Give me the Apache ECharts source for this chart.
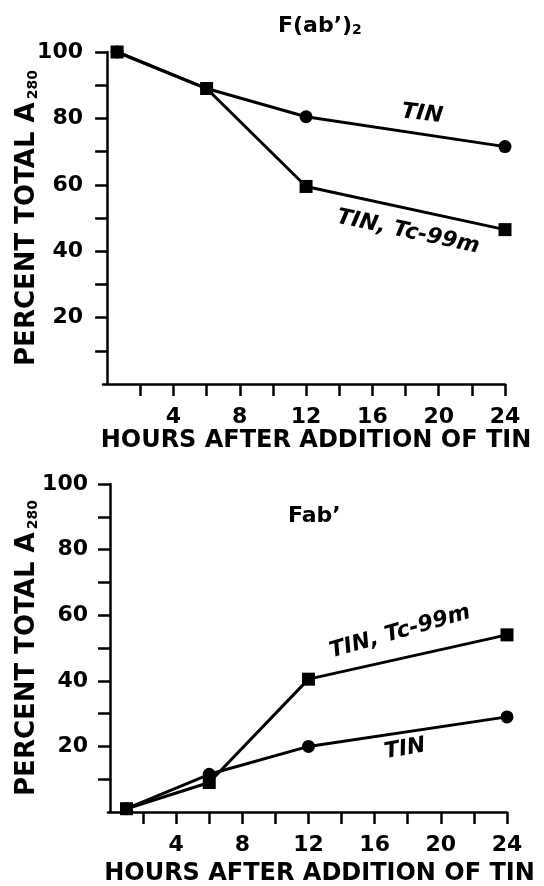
<!DOCTYPE html>
<html>
<head>
<meta charset="utf-8">
<script src="https://cdn.jsdelivr.net/npm/echarts@6/dist/echarts.min.js"></script>
<style>
  html, body { margin: 0; padding: 0; background: #fff; }
  #chart { width: 544px; height: 886px; }
</style>
</head>
<body>
<div id="chart"></div>
<script>
// hours after addition of tin
const hoursTop = [0.6, 6, 12, 24];
const hoursBottom = [1, 6, 12, 24];

// F(ab')2 panel, percent total A280
const tinTop = [100, 89, 80.5, 71.5];
const tinTcTop = [100, 89, 59.5, 46.5];

// Fab' panel
const tinBottom = [1, 11.5, 20, 29];
const tinTcBottom = [1, 9, 40.5, 54];

const xTicks = [2, 4, 6, 8, 10, 12, 14, 16, 18, 20, 22, 24];
const xLabels = [4, 8, 12, 16, 20, 24];
const yTicks = [10, 20, 30, 40, 50, 60, 70, 80, 90, 100];
const yLabels = [20, 40, 60, 80, 100];

const FONT = 'DejaVu Sans';
const black = '#000';

function pairs(xs, ys) {
    return xs.map((x, i) => [x, ys[i]]);
}

function xAxisFor(gridIndex, min, gap) {
    return {
        type: 'value',
        gridIndex: gridIndex,
        min: min,
        max: 24,
        name: 'HOURS AFTER ADDITION OF TIN',
        nameLocation: 'middle',
        nameGap: gap,
        nameTextStyle: {
            fontFamily: FONT, fontWeight: 'bold', fontSize: 24, color: black,
            padding: [0, 0, 0, 24]
        },
        axisLine: { lineStyle: { color: black, width: 2.5 } },
        axisTick: { customValues: xTicks, length: 12, lineStyle: { color: black, width: 2.5 } },
        axisLabel: {
            customValues: xLabels, margin: 22,
            fontFamily: FONT, fontWeight: 'bold', fontSize: 22, color: black
        },
        splitLine: { show: false }
    };
}

function yAxisFor(gridIndex, gap) {
    return {
        type: 'value',
        gridIndex: gridIndex,
        min: 0,
        max: 100,
        name: '{a|PERCENT TOTAL A}{s|280}',
        nameLocation: 'middle',
        nameRotate: 90,
        nameGap: gap,
        nameMoveOverlap: false,
        nameTextStyle: {
            rich: {
                a: { fontFamily: FONT, fontWeight: 'bold', fontSize: 26, color: black },
                s: { fontFamily: FONT, fontWeight: 'bold', fontSize: 14, color: black, verticalAlign: 'bottom', padding: [0, 0, 0, 3] }
            }
        },
        axisLine: { lineStyle: { color: black, width: 2.5 } },
        axisTick: { customValues: yTicks, length: 12, lineStyle: { color: black, width: 2.5 } },
        axisLabel: {
            customValues: yLabels, margin: 20,
            fontFamily: FONT, fontWeight: 'bold', fontSize: 22, color: black
        },
        splitLine: { show: false }
    };
}

function lineSeries(idx, data, symbol) {
    return {
        type: 'line',
        xAxisIndex: idx,
        yAxisIndex: idx,
        data: data,
        symbol: symbol,
        symbolSize: 13,
        showAllSymbol: true,
        lineStyle: { color: black, width: 3 },
        itemStyle: { color: black },
        animation: false
    };
}

// deg > 0 tilts the text upward to the right
function note(text, x, y, deg) {
    return {
        type: 'text',
        x: x, y: y,
        rotation: deg * Math.PI / 180,
        style: {
            text: text,
            font: 'italic bold 22px "DejaVu Sans"',
            fill: black,
            align: 'center',
            verticalAlign: 'middle'
        }
    };
}

const chart = echarts.init(document.getElementById('chart'));

const option = {
    animation: false,
    title: [
        {
            text: "{a|F(ab’)}{s|2}",
            left: 273, top: 10,
            textStyle: {
                rich: {
                    a: { fontFamily: FONT, fontWeight: 'bold', fontSize: 22, color: black },
                    s: { fontFamily: FONT, fontWeight: 'bold', fontSize: 14, color: black, verticalAlign: 'bottom' }
                }
            }
        },
        {
            text: 'Fab’',
            left: 283, top: 500,
            textStyle: { fontFamily: FONT, fontWeight: 'bold', fontSize: 22, color: black }
        }
    ],
    grid: [
        { left: 103, top: 52, width: 402, height: 332, outerBoundsMode: 'none' },
        { left: 108, top: 484, width: 399, height: 328, outerBoundsMode: 'none' }
    ],
    xAxis: [xAxisFor(0, -0.25, 42), xAxisFor(1, -0.12, 50)],
    yAxis: [yAxisFor(0, 63), yAxisFor(1, 68)],
    series: [
        lineSeries(0, pairs(hoursTop, tinTop), 'circle'),
        lineSeries(0, pairs(hoursTop, tinTcTop), 'rect'),
        lineSeries(1, pairs(hoursBottom, tinBottom), 'circle'),
        lineSeries(1, pairs(hoursBottom, tinTcBottom), 'rect')
    ],
    graphic: [
        note('TIN', 422, 114, -7),
        note('TIN, Tc-99m', 408, 232, -12),
        note('TIN, Tc-99m', 400, 632, 16),
        note('TIN', 405, 749, 10)
    ]
};

chart.setOption(option);
</script>
</body>
</html>
